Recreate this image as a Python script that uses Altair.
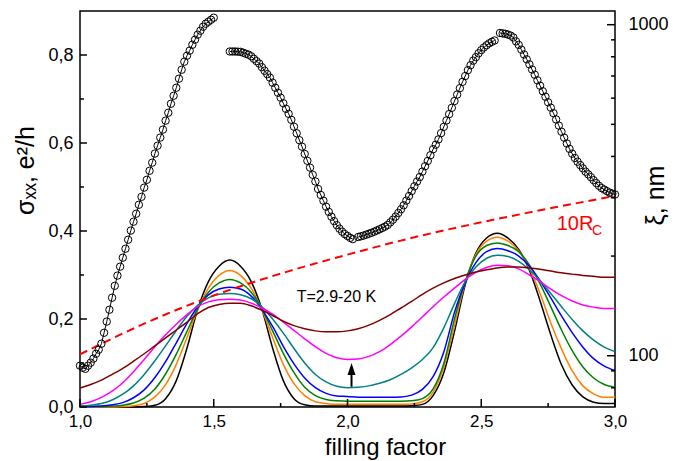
import altair as alt
import pandas as pd

W, H = 535, 396
FONT = "Liberation Sans"

# ---------------- data ----------------
# sigma_xx curves (e^2/h) at filling factors nu_grid, seven temperatures 2.9-20 K
nu_grid = [1.00, 1.04, 1.08, 1.12, 1.16, 1.20, 1.24, 1.28, 1.32, 1.36, 1.40, 1.44, 1.48,
           1.52, 1.56, 1.60, 1.64, 1.68, 1.72, 1.76, 1.80, 1.84, 1.88, 1.92, 1.96, 2.00,
           2.04, 2.08, 2.12, 2.16, 2.20, 2.24, 2.28, 2.32, 2.36, 2.40, 2.44, 2.48, 2.52,
           2.56, 2.60, 2.64, 2.68, 2.72, 2.76, 2.80, 2.84, 2.88, 2.92, 2.96, 3.00]
s_black = [0.000, 0.000, 0.000, 0.000, 0.000, 0.000, 0.001, 0.004, 0.019, 0.060, 0.134, 0.222, 0.285,
           0.320, 0.334, 0.320, 0.285, 0.222, 0.134, 0.060, 0.019, 0.005, 0.002, 0.002, 0.002, 0.002,
           0.002, 0.002, 0.002, 0.002, 0.002, 0.003, 0.006, 0.026, 0.078, 0.172, 0.278, 0.350, 0.384,
           0.395, 0.384, 0.358, 0.311, 0.241, 0.164, 0.096, 0.050, 0.023, 0.011, 0.008, 0.008]
s_orange = [0.000, 0.000, 0.000, 0.000, 0.001, 0.003, 0.008, 0.023, 0.051, 0.097, 0.158, 0.221, 0.270,
            0.299, 0.310, 0.299, 0.270, 0.221, 0.158, 0.097, 0.053, 0.026, 0.012, 0.008, 0.006, 0.006,
            0.006, 0.006, 0.006, 0.006, 0.006, 0.007, 0.012, 0.034, 0.091, 0.185, 0.283, 0.347, 0.377,
            0.386, 0.377, 0.355, 0.315, 0.258, 0.191, 0.132, 0.082, 0.048, 0.030, 0.022, 0.023]
s_green = [0.001, 0.001, 0.001, 0.002, 0.004, 0.009, 0.020, 0.041, 0.075, 0.120, 0.172, 0.223, 0.261,
           0.282, 0.290, 0.282, 0.261, 0.223, 0.173, 0.122, 0.078, 0.045, 0.026, 0.017, 0.014, 0.013,
           0.013, 0.013, 0.013, 0.013, 0.013, 0.014, 0.019, 0.041, 0.099, 0.200, 0.285, 0.343, 0.367,
           0.373, 0.367, 0.353, 0.323, 0.280, 0.228, 0.175, 0.128, 0.091, 0.066, 0.051, 0.045]
s_blue = [0.001, 0.001, 0.002, 0.005, 0.010, 0.021, 0.039, 0.067, 0.103, 0.146, 0.190, 0.228, 0.255,
          0.268, 0.272, 0.268, 0.252, 0.222, 0.183, 0.138, 0.098, 0.066, 0.044, 0.031, 0.025, 0.024,
          0.022, 0.022, 0.022, 0.022, 0.023, 0.027, 0.040, 0.069, 0.125, 0.215, 0.282, 0.328, 0.353,
          0.360, 0.355, 0.343, 0.320, 0.287, 0.248, 0.207, 0.169, 0.136, 0.110, 0.093, 0.083]
s_teal = [0.002, 0.004, 0.008, 0.016, 0.029, 0.048, 0.074, 0.105, 0.139, 0.174, 0.206, 0.231, 0.248,
          0.256, 0.258, 0.255, 0.246, 0.228, 0.200, 0.168, 0.133, 0.100, 0.074, 0.057, 0.047, 0.044,
          0.045, 0.048, 0.054, 0.062, 0.074, 0.089, 0.108, 0.135, 0.180, 0.235, 0.285, 0.318, 0.338,
          0.345, 0.342, 0.331, 0.312, 0.287, 0.258, 0.228, 0.199, 0.173, 0.152, 0.136, 0.126]
s_magenta = [0.006, 0.012, 0.022, 0.036, 0.055, 0.080, 0.108, 0.137, 0.164, 0.188, 0.210, 0.228, 0.239,
             0.244, 0.245, 0.243, 0.236, 0.225, 0.211, 0.193, 0.174, 0.155, 0.137, 0.122, 0.112, 0.108,
             0.109, 0.115, 0.126, 0.142, 0.161, 0.182, 0.205, 0.228, 0.250, 0.270, 0.290, 0.306, 0.317,
             0.322, 0.321, 0.314, 0.300, 0.285, 0.268, 0.253, 0.241, 0.232, 0.227, 0.224, 0.224]
s_darkred = [0.043, 0.051, 0.061, 0.074, 0.088, 0.104, 0.121, 0.139, 0.157, 0.175, 0.193, 0.212, 0.226,
             0.233, 0.236, 0.236, 0.230, 0.220, 0.208, 0.195, 0.185, 0.178, 0.173, 0.171, 0.171, 0.173,
             0.178, 0.186, 0.197, 0.210, 0.225, 0.240, 0.256, 0.270, 0.282, 0.292, 0.300, 0.307, 0.312,
             0.316, 0.318, 0.318, 0.316, 0.313, 0.309, 0.305, 0.302, 0.299, 0.297, 0.295, 0.295]
series_names = ["T1", "T2", "T3", "T4", "T5", "T6", "T7"]
series_colors = ["#000000", "#FF8000", "#008000", "#0000FF", "#008080", "#FF00FF", "#800000"]
series_values = [s_black, s_orange, s_green, s_blue, s_teal, s_magenta, s_darkred]

# correlation length xi (nm), open circles, four measured segments, step 0.01 in nu
seg_start = [1.00, 1.56, 2.04, 2.57]
xi_A = [93.3, 92.0, 91.3, 93.3, 95.3, 98.0, 101.4, 104.3, 108.7, 117.3, 126.8, 137.7, 149.7,
        162.6, 174.6, 185.8, 197.8, 210.5, 224.1, 238.8, 254.0, 268.5, 285.8, 302, 322, 340,
        362, 383, 408, 431, 456, 482, 513, 542, 577, 610, 645, 687, 731, 773, 806, 835, 870,
        901, 933, 959, 986, 1007, 1021, 1035, 1050]
xi_B = [830, 830, 830, 829, 828, 823, 817, 812, 803, 789, 776, 763, 744, 726, 709, 692, 668,
        645, 623, 602, 579, 557, 538, 516, 492, 470, 448, 428, 407, 388, 370, 352, 336, 319,
        306, 294, 282, 272, 263, 255, 248, 242, 237, 233, 230, 227, 225]
xi_C = [228.4, 229.5, 230.6, 232.1, 233.7, 235.2, 237, 239, 241, 243.2, 245.4, 248.3, 252.8,
        257.6, 263.2, 269.9, 276.9, 284.7, 294.2, 303.7, 314.3, 324.9, 335.9, 346.4, 359.9,
        373.6, 387.6, 403.3, 420.6, 434, 450.2, 470.4, 491.4, 513.8, 536.8, 561, 588, 615,
        643, 672, 699.6, 728.9, 754.6, 778.6, 798, 819.6, 838, 853.7, 867, 878.7, 887.9, 896]
xi_D = [944, 941.3, 938.7, 933.5, 927, 915, 890.5, 869, 840.5, 812.8, 786, 759.2, 732.3,
        706.3, 679.2, 654.2, 629.6, 606, 583, 561.5, 540.4, 517.3, 495.8, 475, 455.7, 437.7,
        421.5, 407.7, 395.7, 385.6, 376.6, 368.1, 359.7, 353.2, 346.2, 339, 332.3, 326.1,
        320.9, 317.6, 314.1, 311, 308.7, 307]
xi_segments = [xi_A, xi_B, xi_C, xi_D]

# 10 R_c (nm), red dashed
rc_nu = [1.00, 1.25, 1.50, 1.75, 2.00, 2.25, 2.50, 2.75, 3.00]
rc_xi = [101, 126, 152, 177, 202, 228, 253, 278, 304]

# axis ticks
x_major = [1.0, 1.5, 2.0, 2.5, 3.0]
x_minor = [1.25, 1.75, 2.25, 2.75]
s_major = [0.0, 0.2, 0.4, 0.6, 0.8]
s_minor = [0.1, 0.3, 0.5, 0.7]
xi_major = [100, 1000]
xi_minor = [80, 90, 200, 300, 400, 500, 600, 700, 800, 900]

# ---------------- tables ----------------
curves = pd.DataFrame([
    {"nu": n, "sigma": v, "series": name}
    for name, vals in zip(series_names, series_values)
    for n, v in zip(nu_grid, vals)
])
circ_rows = []
for i, (st, vals) in enumerate(zip(seg_start, xi_segments)):
    for k, v in enumerate(vals):
        circ_rows.append({"nu": round(st + 0.01 * k, 2), "xi": v, "seg": i})
circles = pd.DataFrame(circ_rows)
rc = pd.DataFrame({"nu": rc_nu, "xi": rc_xi})

# ---------------- scales / axes ----------------
comma = "replace(format(datum.value, '.1f'), '.', ',')"
x_scale = alt.Scale(domain=[1.0, 3.0], nice=False, zero=False)
s_scale = alt.Scale(domain=[0.0, 0.9], nice=False, zero=False)
xi_scale = alt.Scale(type="log", domain=[70, 1100], nice=False)

x_axis = alt.Axis(values=x_major, labelExpr=comma, ticks=False, domain=False, grid=False,
                  labelFont=FONT, labelFontSize=17, labelColor="black", labelPadding=6,
                  labelFlush=False, title="filling factor", titleFont=FONT, titleFontSize=24,
                  titleFontWeight="normal", titleColor="black", titleX=305, titleY=47,
                  titleAlign="center", titleBaseline="alphabetic")
s_axis = alt.Axis(values=s_major, labelExpr=comma, ticks=False, domain=False, grid=False,
                  labelFont=FONT, labelFontSize=18, labelColor="black", labelPadding=7,
                  labelFlush=False, title="σₓₓ, e²/h", titleFont=FONT, titleFontSize=25,
                  titleFontWeight="normal", titleColor="black", titleAngle=270,
                  titleX=-55, titleY=159, titleAlign="center", titleBaseline="middle")
xi_axis = alt.Axis(orient="right", values=xi_major, format="d", ticks=False, domain=False,
                   grid=False, labelFont=FONT, labelFontSize=18, labelColor="black",
                   labelPadding=13, labelFlush=False, title="ξ, nm", titleFont=FONT,
                   titleFontSize=25, titleFontWeight="normal", titleColor="black",
                   titleAngle=270, titleX=40, titleY=184, titleAlign="center",
                   titleBaseline="middle")

X = alt.X("nu:Q", scale=x_scale, axis=x_axis)
S = alt.Y("sigma:Q", scale=s_scale, axis=s_axis)
XI = alt.Y("xi:Q", scale=xi_scale, axis=xi_axis)

# ---------------- sigma layers ----------------
curve_layer = alt.Chart(curves).mark_line(strokeWidth=1.5, interpolate="monotone").encode(
    x=X, y=S,
    color=alt.Color("series:N", scale=alt.Scale(domain=series_names, range=series_colors), legend=None),
)
s_tick_major = alt.Chart(pd.DataFrame({"sigma": s_major})).mark_rule(color="black", strokeWidth=1.5).encode(
    y=S, x=alt.value(0), x2=alt.value(7))
s_tick_minor = alt.Chart(pd.DataFrame({"sigma": s_minor})).mark_rule(color="black", strokeWidth=1.5).encode(
    y=S, x=alt.value(0), x2=alt.value(4))
x_tick_major = alt.Chart(pd.DataFrame({"nu": x_major})).mark_rule(color="black", strokeWidth=1.5).encode(
    x=X, y=alt.value(H), y2=alt.value(H - 8))
x_tick_minor = alt.Chart(pd.DataFrame({"nu": x_minor})).mark_rule(color="black", strokeWidth=1.5).encode(
    x=X, y=alt.value(H), y2=alt.value(H - 4))

t_label = alt.Chart(pd.DataFrame({"nu": [1.81], "sigma": [0.238], "t": ["T=2.9-20 K"]})).mark_text(
    font=FONT, fontSize=16, color="black", align="left", baseline="alphabetic").encode(x=X, y=S, text="t:N")
arrow_shaft = alt.Chart(pd.DataFrame({"nu": [2.015], "sigma": [0.046], "sigma2": [0.08]})).mark_rule(
    color="black", strokeWidth=2).encode(x=X, y=S, y2="sigma2:Q")
arrow_head = alt.Chart(pd.DataFrame({"nu": [2.015], "sigma": [0.0865]})).mark_point(
    shape="M0,-1.2L0.8,1.2L-0.8,1.2Z", filled=True, color="black", opacity=1, size=100).encode(x=X, y=S)
rc_text = alt.Chart(pd.DataFrame({"nu": [2.782], "sigma": [0.402], "t": ["10R"]})).mark_text(
    font=FONT, fontSize=20, color="#FF0000", align="left", baseline="alphabetic").encode(x=X, y=S, text="t:N")
rc_sub = alt.Chart(pd.DataFrame({"nu": [2.914], "sigma": [0.391], "t": ["C"]})).mark_text(
    font=FONT, fontSize=14, color="#FF0000", align="left", baseline="alphabetic").encode(x=X, y=S, text="t:N")

sigma_group = alt.layer(curve_layer, s_tick_major, s_tick_minor, x_tick_major, x_tick_minor,
                        t_label, arrow_shaft, arrow_head, rc_text, rc_sub)

# ---------------- xi layers ----------------
rc_line = alt.Chart(rc).mark_line(color="#FF0000", strokeWidth=2, strokeDash=[8, 5], interpolate="monotone").encode(
    x=X, y=XI)
xi_line = alt.Chart(circles).mark_line(color="black", strokeWidth=1).encode(x=X, y=XI, detail="seg:N")
xi_points = alt.Chart(circles).mark_point(shape="circle", filled=False, color="black", strokeWidth=1,
                                          size=55, opacity=1).encode(x=X, y=XI)
xi_tick_major = alt.Chart(pd.DataFrame({"xi": xi_major})).mark_rule(color="black", strokeWidth=1.5).encode(
    y=XI, x=alt.value(W), x2=alt.value(W - 8))
xi_tick_minor = alt.Chart(pd.DataFrame({"xi": xi_minor})).mark_rule(color="black", strokeWidth=1.5).encode(
    y=XI, x=alt.value(W), x2=alt.value(W - 4))

xi_group = alt.layer(rc_line, xi_line, xi_points, xi_tick_major, xi_tick_minor)

chart = alt.layer(sigma_group, xi_group).resolve_scale(y="independent").properties(
    width=W, height=H,
    padding={"left": 72, "top": 3, "right": 63, "bottom": 54},
    autosize=alt.AutoSizeParams(type="none"),
    background="white",
).configure_view(stroke="black", strokeWidth=1.5)

chart.save("out.html", embed_options={"renderer": "svg", "actions": False})
